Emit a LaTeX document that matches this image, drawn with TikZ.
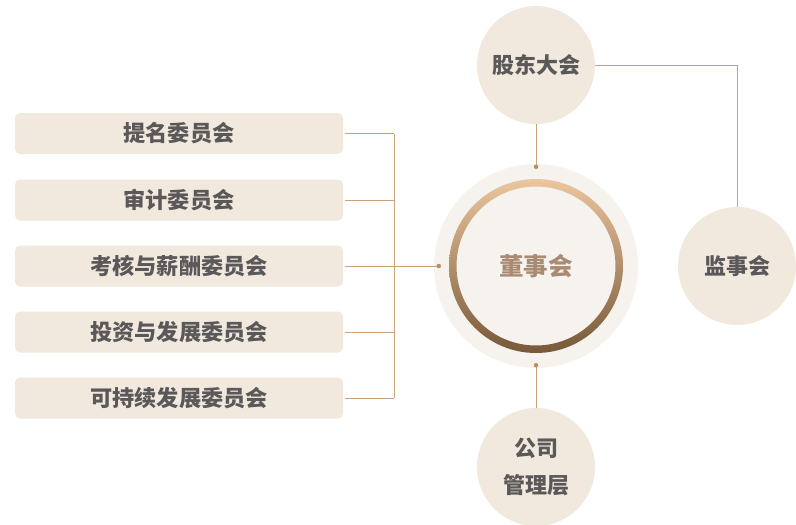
\documentclass[tikz,border=0pt]{standalone}
\usepackage{fontspec}
\setmainfont{Noto Sans CJK SC}
\usetikzlibrary{calc}
\definecolor{boxfill}{HTML}{F1E8DE}
\definecolor{halofill}{HTML}{F6F3EE}
\definecolor{linkcol}{HTML}{C9A27C}
\definecolor{dotcol}{HTML}{BA8D60}
\definecolor{txtcol}{HTML}{5A5858}
\definecolor{boardtxt}{HTML}{A98B73}
\definecolor{ringtop}{HTML}{EBC69E}
\definecolor{ringbot}{HTML}{775838}
\tikzset{
    committee/.style={
      draw=none, fill=boxfill, rounded corners=5pt, minimum width=328pt,
      minimum height=41pt, inner sep=0pt, text=txtcol,
      font=\fontsize{22.2pt}{26pt}\selectfont\bfseries,
    },
    organ/.style={
      circle, fill=boxfill, minimum size=118pt, inner sep=0pt, text=txtcol,
      align=center, font=\fontsize{22pt}{37pt}\selectfont\bfseries,
    },
    link/.style={draw=linkcol, line width=0.9pt},
    linkdot/.style={fill=dotcol, circle, inner sep=0pt, minimum size=4.5pt},
  }

\begin{document}
\begin{tikzpicture}[x=1pt,y=-1pt]
      \useasboundingbox (0,0) rectangle (796,525);

      % board in the middle
      \node[circle, fill=halofill, minimum size=204pt, inner sep=0pt] (board) at (536,266) {};
      \path[even odd rule, top color=ringtop, bottom color=ringbot]
         (board.center) circle (87pt) (board.center) circle (79.5pt);
      \node[text=boardtxt, font=\fontsize{24.5pt}{28pt}\selectfont\bfseries] (boardlabel) at (board.center) {董事会};

      % the other organs
      \node[organ] (agm) at (536,65) {股东大会};
      \node[organ] (supervisors) at (737,266) {监事会};
      \node[organ] (management) at (536,467) {公司\\管理层};

      % committees
      \node[committee] (nomination) at (179,133.5) {提名委员会};
      \node[committee] (audit)      at (179,200)   {审计委员会};
      \node[committee] (assessment) at (179,266)   {考核与薪酬委员会};
      \node[committee] (investment) at (179,332)   {投资与发展委员会};
      \node[committee] (sustain)    at (179,398)   {可持续发展委员会};

      % committee bus
      \coordinate (bus) at (394,266);
      \foreach \c in {nomination,audit,assessment,investment,sustain}
        \draw[link] ([xshift=2pt]\c.east) -- (\c.east -| bus);
      \draw[link] (nomination.east -| bus) -- (sustain.east -| bus);
      \draw[link] (bus) -- ([xshift=5pt]board.west) node[linkdot] (dotw) {};

      % vertical links
      \draw[link] (agm.south) -- ([yshift=-3pt]board.north) node[linkdot] (dotn) {};
      \draw[link] (management.north) -- ([yshift=3pt]board.south) node[linkdot] (dots) {};

      % shareholders to supervisors
      \draw[link] (agm.east) -| (supervisors.north);
    \end{tikzpicture}
\end{document}
